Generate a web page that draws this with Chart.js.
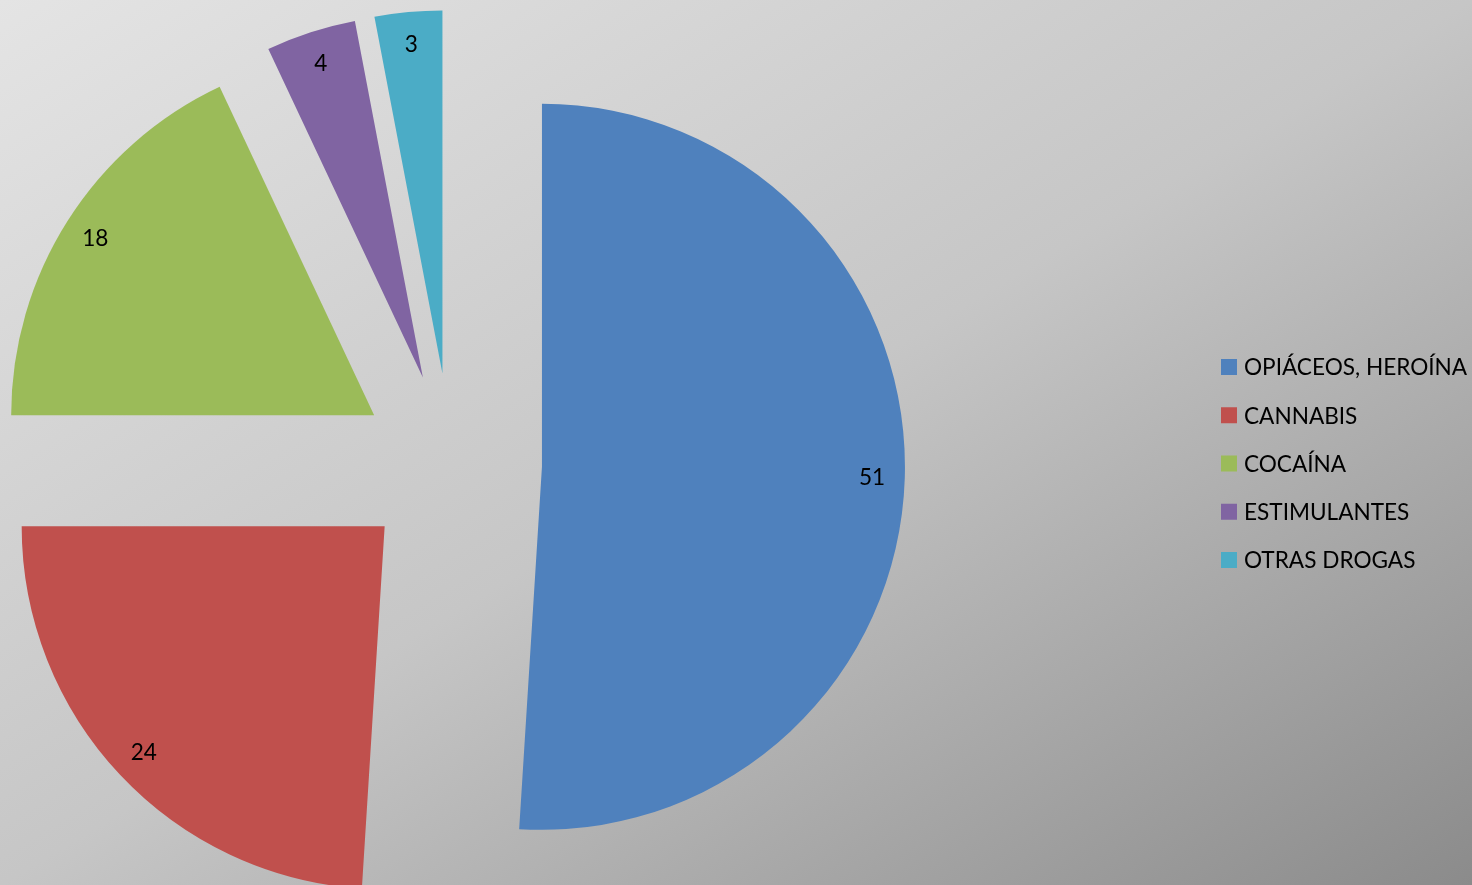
<!DOCTYPE html>
<html>
<head>
<meta charset="utf-8">
<script src="https://cdn.jsdelivr.net/npm/chart.js@4.4.1/dist/chart.umd.min.js"></script>
<style>
  html, body { margin: 0; padding: 0; }
  body {
    width: 1472px;
    height: 885px;
    overflow: hidden;
    background: linear-gradient(to bottom right, #e4e4e4 0%, #c6c6c6 50%, #8b8b8b 100%);
  }
  canvas { display: block; }
</style>
</head>
<body>
<canvas id="pieChart" width="1472" height="885"></canvas>
<script>
// Datos del gráfico
const drugLabels = ['OPIÁCEOS, HEROÍNA', 'CANNABIS', 'COCAÍNA', 'ESTIMULANTES', 'OTRAS DROGAS'];
const drugValues = [51, 24, 18, 4, 3];
const drugColors = ['#4F81BD', '#C0504D', '#9BBB59', '#8064A2', '#4BACC6'];

const FONT_FAMILY = 'Lato, "Liberation Sans", sans-serif';
const FONT_SIZE = 22.6;
const EXPLODE = 91;      // separación de cada porción respecto al centro
const LABEL_POS = 0.91;  // posición de la etiqueta sobre el radio

// Separa las porciones (efecto "pastel desglosado")
const explodePlugin = {
    id: 'explode',
    afterDatasetsUpdate(chart) {
        const meta = chart.getDatasetMeta(0);
        meta.data.forEach(arc => {
            const mid = (arc.startAngle + arc.endAngle) / 2;
            arc.x += Math.cos(mid) * EXPLODE;
            arc.y += Math.sin(mid) * EXPLODE;
        });
    }
};

// Etiquetas de datos y leyenda dibujadas sobre el canvas
const labelsPlugin = {
    id: 'labels',
    afterDraw(chart) {
        const ctx = chart.ctx;
        const meta = chart.getDatasetMeta(0);
        const values = chart.data.datasets[0].data;
        ctx.save();
        ctx.font = FONT_SIZE + 'px ' + FONT_FAMILY;
        ctx.fillStyle = '#000';
        ctx.textAlign = 'center';
        ctx.textBaseline = 'middle';
        meta.data.forEach((arc, i) => {
            const mid = (arc.startAngle + arc.endAngle) / 2;
            const r = arc.outerRadius * LABEL_POS;
            ctx.fillText(String(values[i]), arc.x + Math.cos(mid) * r, arc.y + Math.sin(mid) * r);
        });

        // Leyenda
        const legendX = 1221;
        const legendY = 367;
        const step = 48.25;
        ctx.textAlign = 'left';
        chart.data.labels.forEach((label, i) => {
            const y = legendY + i * step;
            ctx.fillStyle = chart.data.datasets[0].backgroundColor[i];
            ctx.fillRect(legendX, y - 8, 16, 16);
            ctx.fillStyle = '#000';
            ctx.fillText(label, legendX + 23, y + 1);
        });
        ctx.restore();
    }
};

const ctx = document.getElementById('pieChart').getContext('2d');
const pieChart = new Chart(ctx, {
    type: 'pie',
    data: {
        labels: drugLabels,
        datasets: [{
            data: drugValues,
            backgroundColor: drugColors,
            borderWidth: 0,
            clip: false
        }]
    },
    options: {
        responsive: false,
        animation: false,
        radius: 363,
        layout: {
            padding: { top: 43, right: 570, bottom: 0, left: 0 }
        },
        plugins: {
            legend: { display: false },
            tooltip: { enabled: false }
        }
    },
    plugins: [explodePlugin, labelsPlugin]
});
</script>
</body>
</html>
